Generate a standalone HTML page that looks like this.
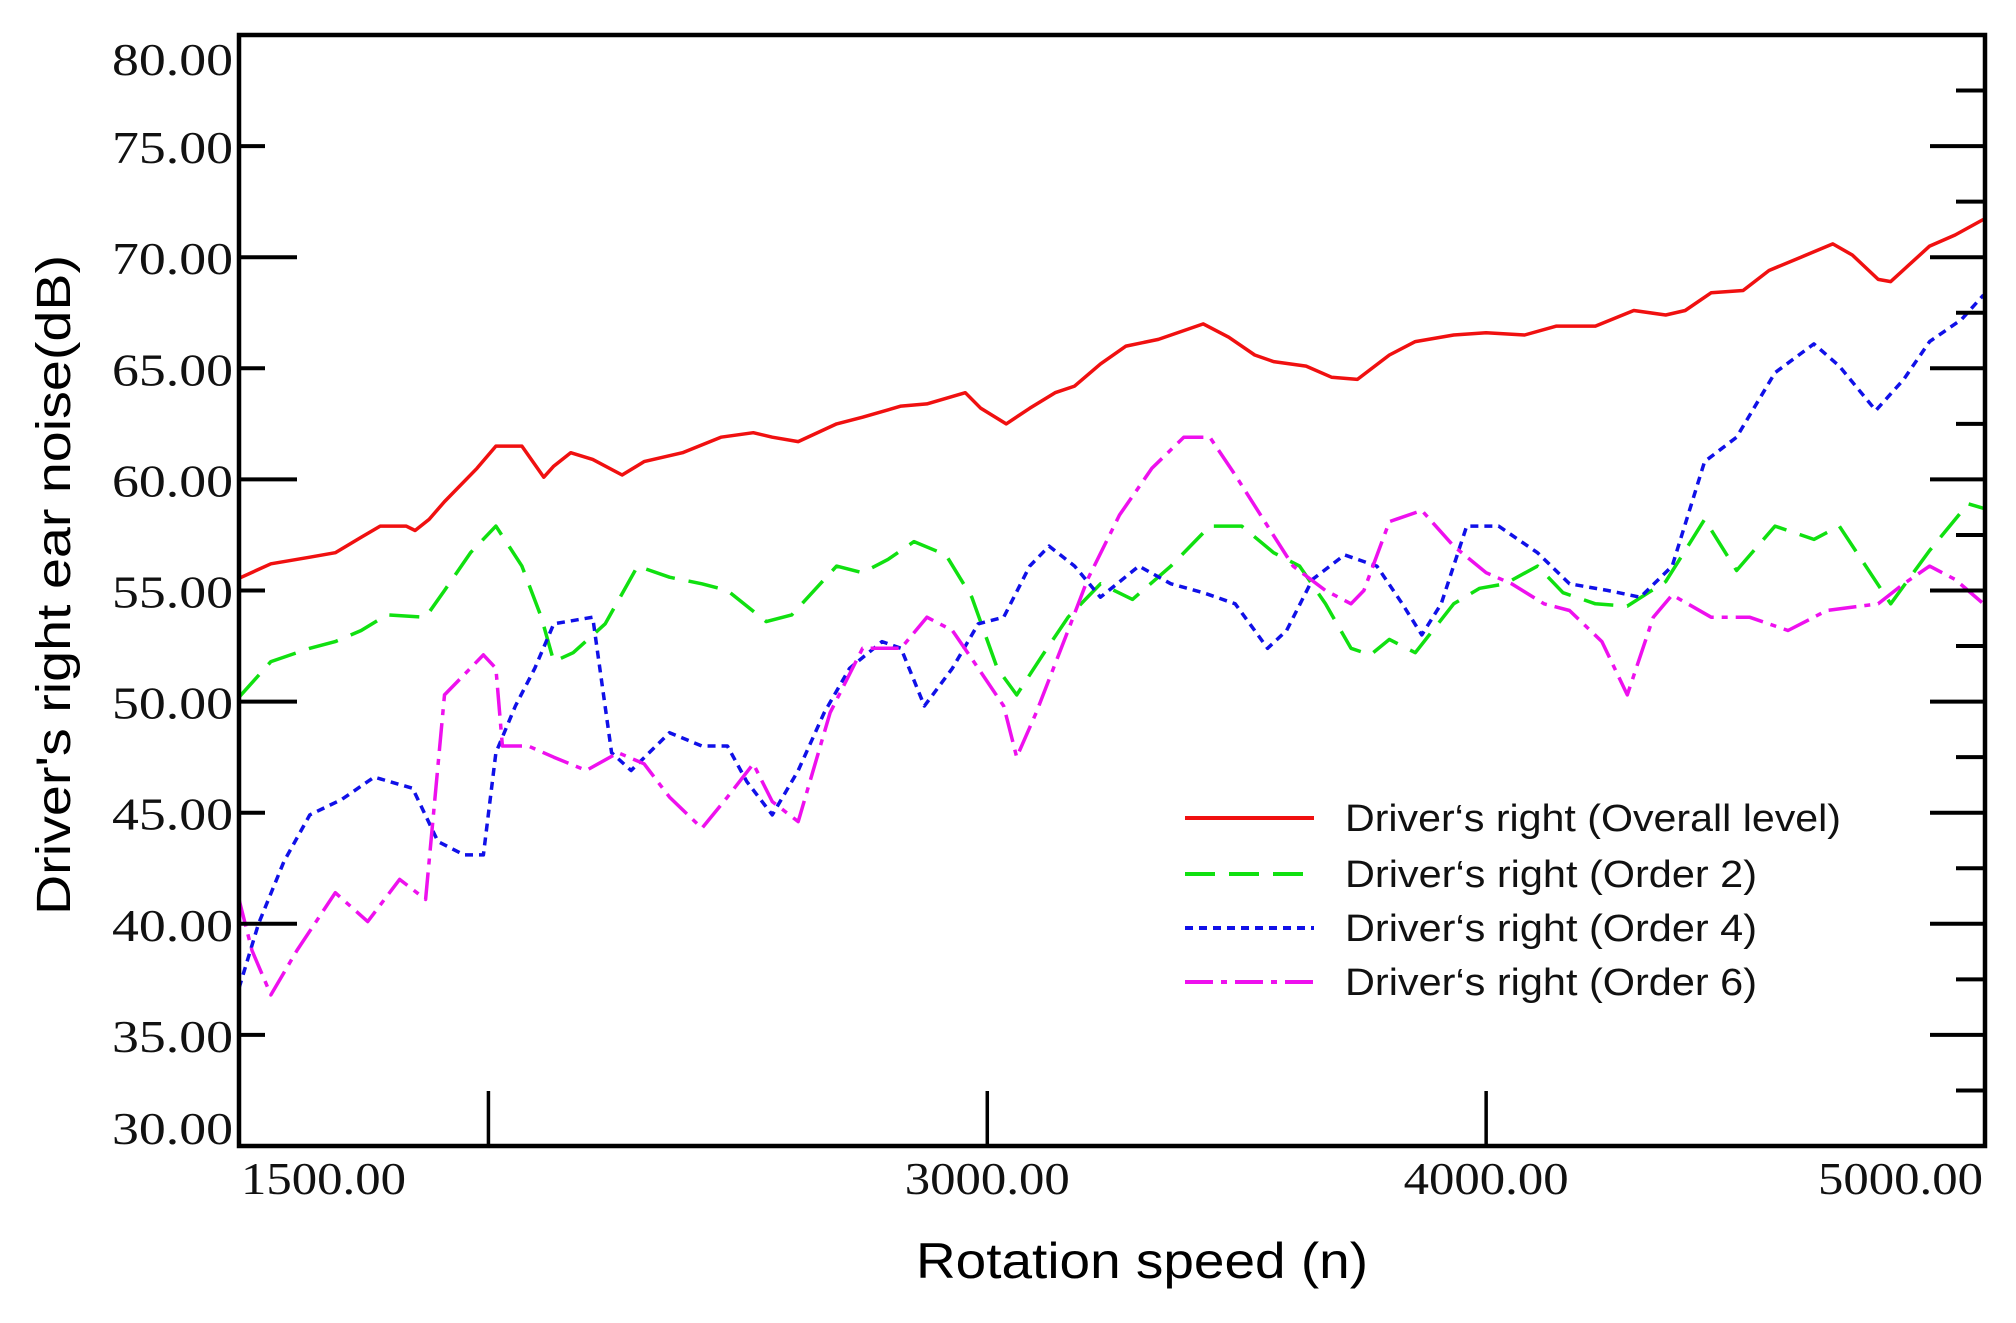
<!DOCTYPE html>
<html><head><meta charset="utf-8"><style>
html,body{margin:0;padding:0;background:#fff;}
svg{display:block;}
</style></head><body>
<svg id="chart" width="2016" height="1323" viewBox="0 0 2016 1323" xmlns="http://www.w3.org/2000/svg">
<g id="series"></g>
<g id="axes"></g>
<g id="legend"></g>
<text transform="translate(70,585) rotate(-90)" text-anchor="middle" font-family="Liberation Sans, sans-serif" font-size="48" textLength="660" lengthAdjust="spacingAndGlyphs">Driver's right ear noise(dB)</text>
<text x="1142" y="1278" text-anchor="middle" font-family="Liberation Sans, sans-serif" font-size="50" textLength="452" lengthAdjust="spacingAndGlyphs">Rotation speed (n)</text>
</svg>
<script>
const yTicks = [30,35,40,45,50,55,60,65,70,75,80];
const yTickLabels = ["30.00","35.00","40.00","45.00","50.00","55.00","60.00","65.00","70.00","75.00","80.00"];
const xTicks = [2000,3000,4000];
const xTickLabelValues = [1500,3000,4000,5000];
const xTickLabels = ["1500.00","3000.00","4000.00","5000.00"];
const seriesNames = ["Driver‘s right (Overall level)","Driver‘s right (Order 2)","Driver‘s right (Order 4)","Driver‘s right (Order 6)"];

const overallRpm = [1500,1564,1642,1693,1745,1783,1835,1853,1881,1912,1977,2015,2067,2111,2131,2165,2209,2268,2312,2389,2466,2531,2569,2621,2698,2750,2827,2879,2956,2987,3038,3085,3136,3175,3227,3278,3343,3433,3484,3536,3574,3639,3690,3742,3806,3858,3935,4000,4077,4141,4219,4296,4360,4399,4451,4515,4567,4631,4695,4734,4786,4811,4889,4940,4997];
const overallDb = [55.55,56.2,56.5,56.7,57.4,57.9,57.9,57.7,58.2,59.0,60.5,61.5,61.5,60.1,60.6,61.2,60.9,60.2,60.8,61.2,61.9,62.1,61.9,61.7,62.5,62.8,63.3,63.4,63.9,63.2,62.5,63.2,63.9,64.2,65.2,66.0,66.3,67.0,66.4,65.6,65.3,65.1,64.6,64.5,65.6,66.2,66.5,66.6,66.5,66.9,66.9,67.6,67.4,67.6,68.4,68.5,69.4,70.0,70.6,70.1,69.0,68.9,70.5,71.0,71.7];

const order2Rpm = [1500,1564,1642,1693,1745,1796,1874,1912,1964,2015,2067,2106,2131,2170,2234,2299,2363,2428,2479,2557,2608,2698,2750,2801,2853,2917,2969,3020,3059,3111,3162,3227,3291,3368,3446,3510,3574,3626,3678,3729,3768,3806,3858,3935,3987,4038,4103,4154,4219,4283,4360,4438,4502,4579,4657,4708,4811,4889,4966,4997];
const order2Db = [50.2,51.8,52.4,52.7,53.2,53.9,53.8,55.0,56.7,57.9,56.1,53.8,51.8,52.2,53.5,56.1,55.6,55.3,55.0,53.6,53.9,56.1,55.8,56.4,57.2,56.6,54.7,51.5,50.3,52.1,53.8,55.3,54.6,56.1,57.9,57.9,56.7,56.1,54.4,52.4,52.1,52.8,52.2,54.4,55.1,55.3,56.1,54.9,54.4,54.3,55.4,58.2,55.9,57.9,57.3,57.9,54.4,56.8,58.9,58.7];

const order4Rpm = [1500,1539,1590,1642,1706,1771,1848,1899,1951,1990,2015,2054,2093,2131,2209,2247,2286,2363,2428,2479,2518,2569,2621,2673,2724,2789,2827,2874,2930,2982,3033,3085,3124,3175,3227,3304,3368,3433,3497,3562,3600,3652,3716,3781,3832,3871,3910,3961,4025,4103,4167,4244,4309,4373,4438,4502,4579,4657,4708,4781,4837,4889,4953,4997];
const order4Db = [37.1,40.0,42.8,44.9,45.6,46.6,46.1,43.7,43.1,43.1,47.7,49.8,51.5,53.5,53.8,47.7,46.9,48.6,48.0,48.0,46.4,44.9,46.9,49.5,51.5,52.7,52.4,49.8,51.5,53.5,53.8,56.1,57.0,56.1,54.7,56.1,55.3,54.9,54.4,52.4,53.2,55.5,56.6,56.1,54.4,53.0,54.4,57.9,57.9,56.7,55.3,55.0,54.7,56.1,60.8,61.9,64.8,66.1,65.1,63.1,64.5,66.2,67.2,68.3];

const order6Rpm = [1500,1526,1564,1616,1693,1758,1822,1874,1912,1990,2015,2028,2080,2131,2196,2260,2312,2363,2428,2479,2531,2569,2621,2685,2750,2827,2879,2930,2982,3033,3059,3098,3162,3201,3265,3330,3394,3446,3497,3562,3613,3678,3729,3755,3806,3871,3935,4000,4051,4116,4167,4232,4283,4335,4373,4451,4528,4605,4683,4786,4837,4889,4940,4997];
const order6Db = [41.1,38.8,36.8,38.8,41.4,40.1,42.0,41.1,50.3,52.1,51.5,48.0,48.0,47.5,46.9,47.7,47.2,45.7,44.3,45.7,47.2,45.5,44.6,49.5,52.4,52.4,53.8,53.2,51.5,49.8,47.5,49.5,53.2,55.5,58.4,60.5,61.9,61.9,60.2,57.9,56.1,55.0,54.4,55.0,58.1,58.6,57.0,55.8,55.3,54.4,54.1,52.7,50.3,53.8,54.8,53.8,53.8,53.2,54.1,54.4,55.3,56.1,55.5,54.4];

const L=239,R=1985,T=35,B=1146;
function xS(r){return L+(r-1500)/3500*(R-L);}
function yS(v){return B-(v-30)/50*(B-T);}
const NS="http://www.w3.org/2000/svg";
function mk(tag,attrs,parent){const e=document.createElementNS(NS,tag);for(const k in attrs)e.setAttribute(k,attrs[k]);parent.appendChild(e);return e;}
const axes=document.getElementById('axes');
const seriesG=document.getElementById('series');
const legend=document.getElementById('legend');

const styles=[
 {color:"#f01010",dash:"",name:"overall-level-line"},
 {color:"#10e010",dash:"30 14",name:"order-2-line"},
 {color:"#1010e8",dash:"8 6",name:"order-4-line"},
 {color:"#ee10ee",dash:"28 8 6 8",name:"order-6-line"}
];
const data=[[overallRpm,overallDb],[order2Rpm,order2Db],[order4Rpm,order4Db],[order6Rpm,order6Db]];
data.forEach((d,i)=>{
  const pts=d[0].map((r,j)=>xS(r).toFixed(1)+","+yS(d[1][j]).toFixed(1)).join(" ");
  const p=mk('polyline',{points:pts,fill:"none",stroke:styles[i].color,"stroke-width":"3.5","stroke-dasharray":styles[i].dash,"stroke-linejoin":"round"},seriesG);
  
  
});

const frame=mk('rect',{x:L,y:T,width:R-L,height:B-T,fill:"none",stroke:"#000","stroke-width":"4.5"},axes);



yTicks.forEach((v,i)=>{
  const y=yS(v);
  if(v>30&&v<80){
    const long=(v%10===0);
    const t=mk('line',{x1:L,x2:L+(long?58:26),y1:y,y2:y,stroke:"#000","stroke-width":"4"},axes);
    
    
  }
  const ly=Math.min(Math.max(y,58),1127);
  const lab=mk('text',{x:233,y:ly+17,"text-anchor":"end","font-family":"Liberation Serif, serif","font-size":"46",textLength:"121",lengthAdjust:"spacingAndGlyphs",fill:"#111"},axes);
  lab.textContent=yTickLabels[i];
  
  
});
for(let v=32.5;v<80;v+=2.5){
  const y=yS(v);
  const long=(v%5===0);
  const t=mk('line',{x1:R-(long?55:29),x2:R,y1:y,y2:y,stroke:"#000","stroke-width":"4"},axes);
  
  
}
xTicks.forEach(r=>{
  const x=xS(r);
  const t=mk('line',{x1:x,x2:x,y1:B-55,y2:B,stroke:"#000","stroke-width":"3.5"},axes);
  
  
});
xTickLabelValues.forEach((r,i)=>{
  let x=xS(r), anchor="middle";
  if(r===1500){anchor="start";x=x+2;}
  if(r===5000){anchor="end";x=x-2;}
  const lab=mk('text',{x:x,y:1194,"text-anchor":anchor,"font-family":"Liberation Serif, serif","font-size":"46",textLength:"165",lengthAdjust:"spacingAndGlyphs",fill:"#111"},axes);
  lab.textContent=xTickLabels[i];
  
  
});

const legY=[818,874,928,982];
const legLen=[496,412,412,412];
seriesNames.forEach((n,i)=>{
  const ln=mk('line',{x1:1185,x2:1314,y1:legY[i],y2:legY[i],stroke:styles[i].color,"stroke-width":"4","stroke-dasharray":styles[i].dash},legend);
  
  
  const tx=mk('text',{x:1345,y:legY[i]+13,"font-family":"Liberation Sans, sans-serif","font-size":"38",textLength:legLen[i],lengthAdjust:"spacingAndGlyphs",fill:"#111"},legend);
  tx.textContent=n;
  
  
});
</script>
</body></html>
